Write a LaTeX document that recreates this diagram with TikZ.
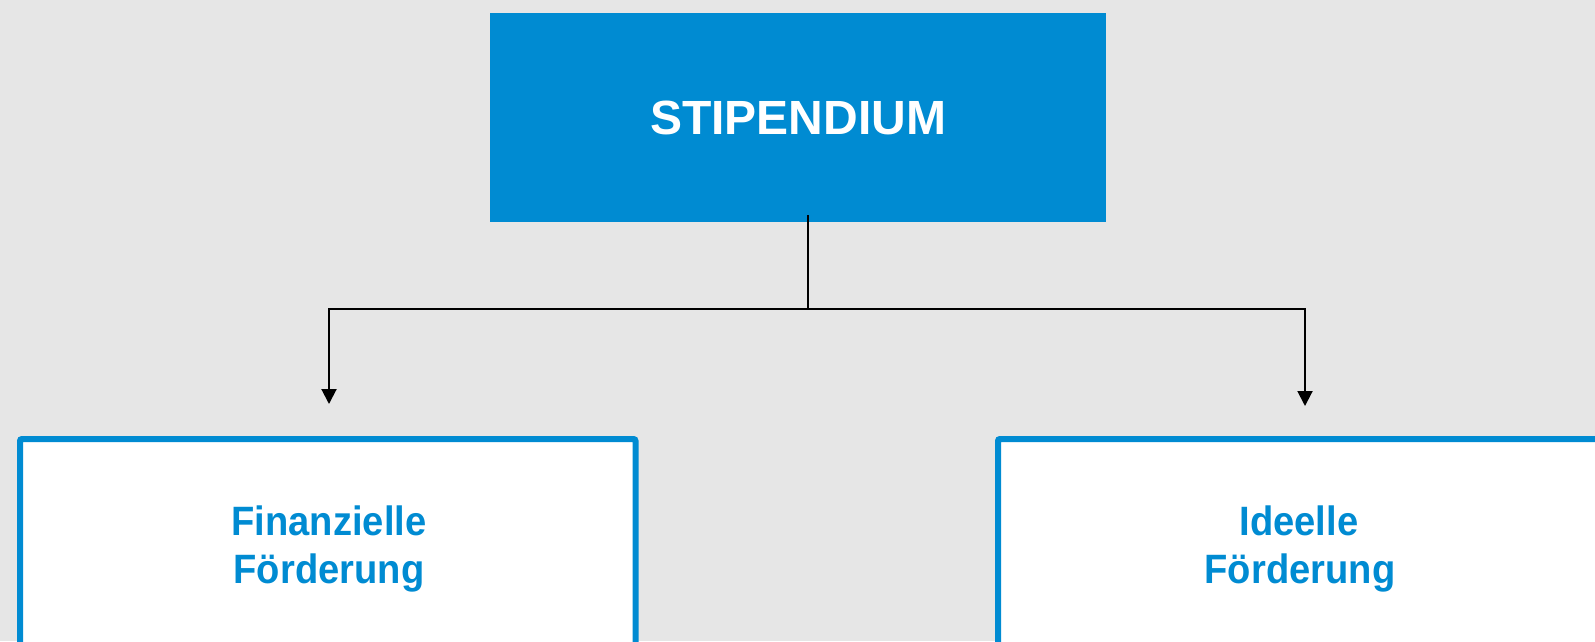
\documentclass[tikz,border=0pt]{standalone}
\usepackage{fontspec}
\setmainfont{Liberation Sans}
\newfontfamily\condfont{Liberation Sans}[FakeStretch=0.93]
\usetikzlibrary{arrows.meta}
\definecolor{bgray}{RGB}{230,230,230}
\definecolor{sblue}{RGB}{0,139,210}
\tikzset{
  topbox/.style={fill=sblue, draw=none, minimum width=616pt, minimum height=209pt, inner sep=0pt, outer sep=0pt,
    text=white, font=\bfseries\fontsize{48}{58}\selectfont},
  subbox/.style={fill=white, draw=sblue, line width=6pt, rounded corners=2pt, minimum width=615.5pt, minimum height=301pt, inner sep=0pt, outer sep=0pt},
  subtext/.style={text=sblue, anchor=base, inner sep=0pt, font=\condfont\bfseries\fontsize{41}{50}\selectfont},
  conn/.style={draw=black, line width=2pt},
  arr/.style={conn, -{Triangle[length=15pt,width=15pt]}}
}
\begin{document}
\begin{tikzpicture}[x=1pt,y=-1pt]
\useasboundingbox (0,0) rectangle (1595,641);
\fill[bgray] (0,0) rectangle (1595,641);
\clip (0,0) rectangle (1595,641);
\node[topbox] (stip) at (798,117.5) {STIPENDIUM};
\node[subbox] (fin) at (327.75,589.5) {};
\node[subbox] (ide) at (1305.75,589.5) {};
\node[subtext] (fin1) at (329,535) {Finanzielle};
\node[subtext] (fin2) at (329,583) {Förderung};
\node[subtext] (ide1) at (1299,535) {Ideelle};
\node[subtext] (ide2) at (1300,583) {Förderung};
\coordinate (j) at (808,309);
\coordinate (fa) at (329,404);
\coordinate (ia) at (1305,406);
\draw[conn] ([yshift=7pt]j |- stip.south) -- (j);
\draw[arr] (j) -| (fa);
\draw[arr] (j) -| (ia);
\end{tikzpicture}
\end{document}
